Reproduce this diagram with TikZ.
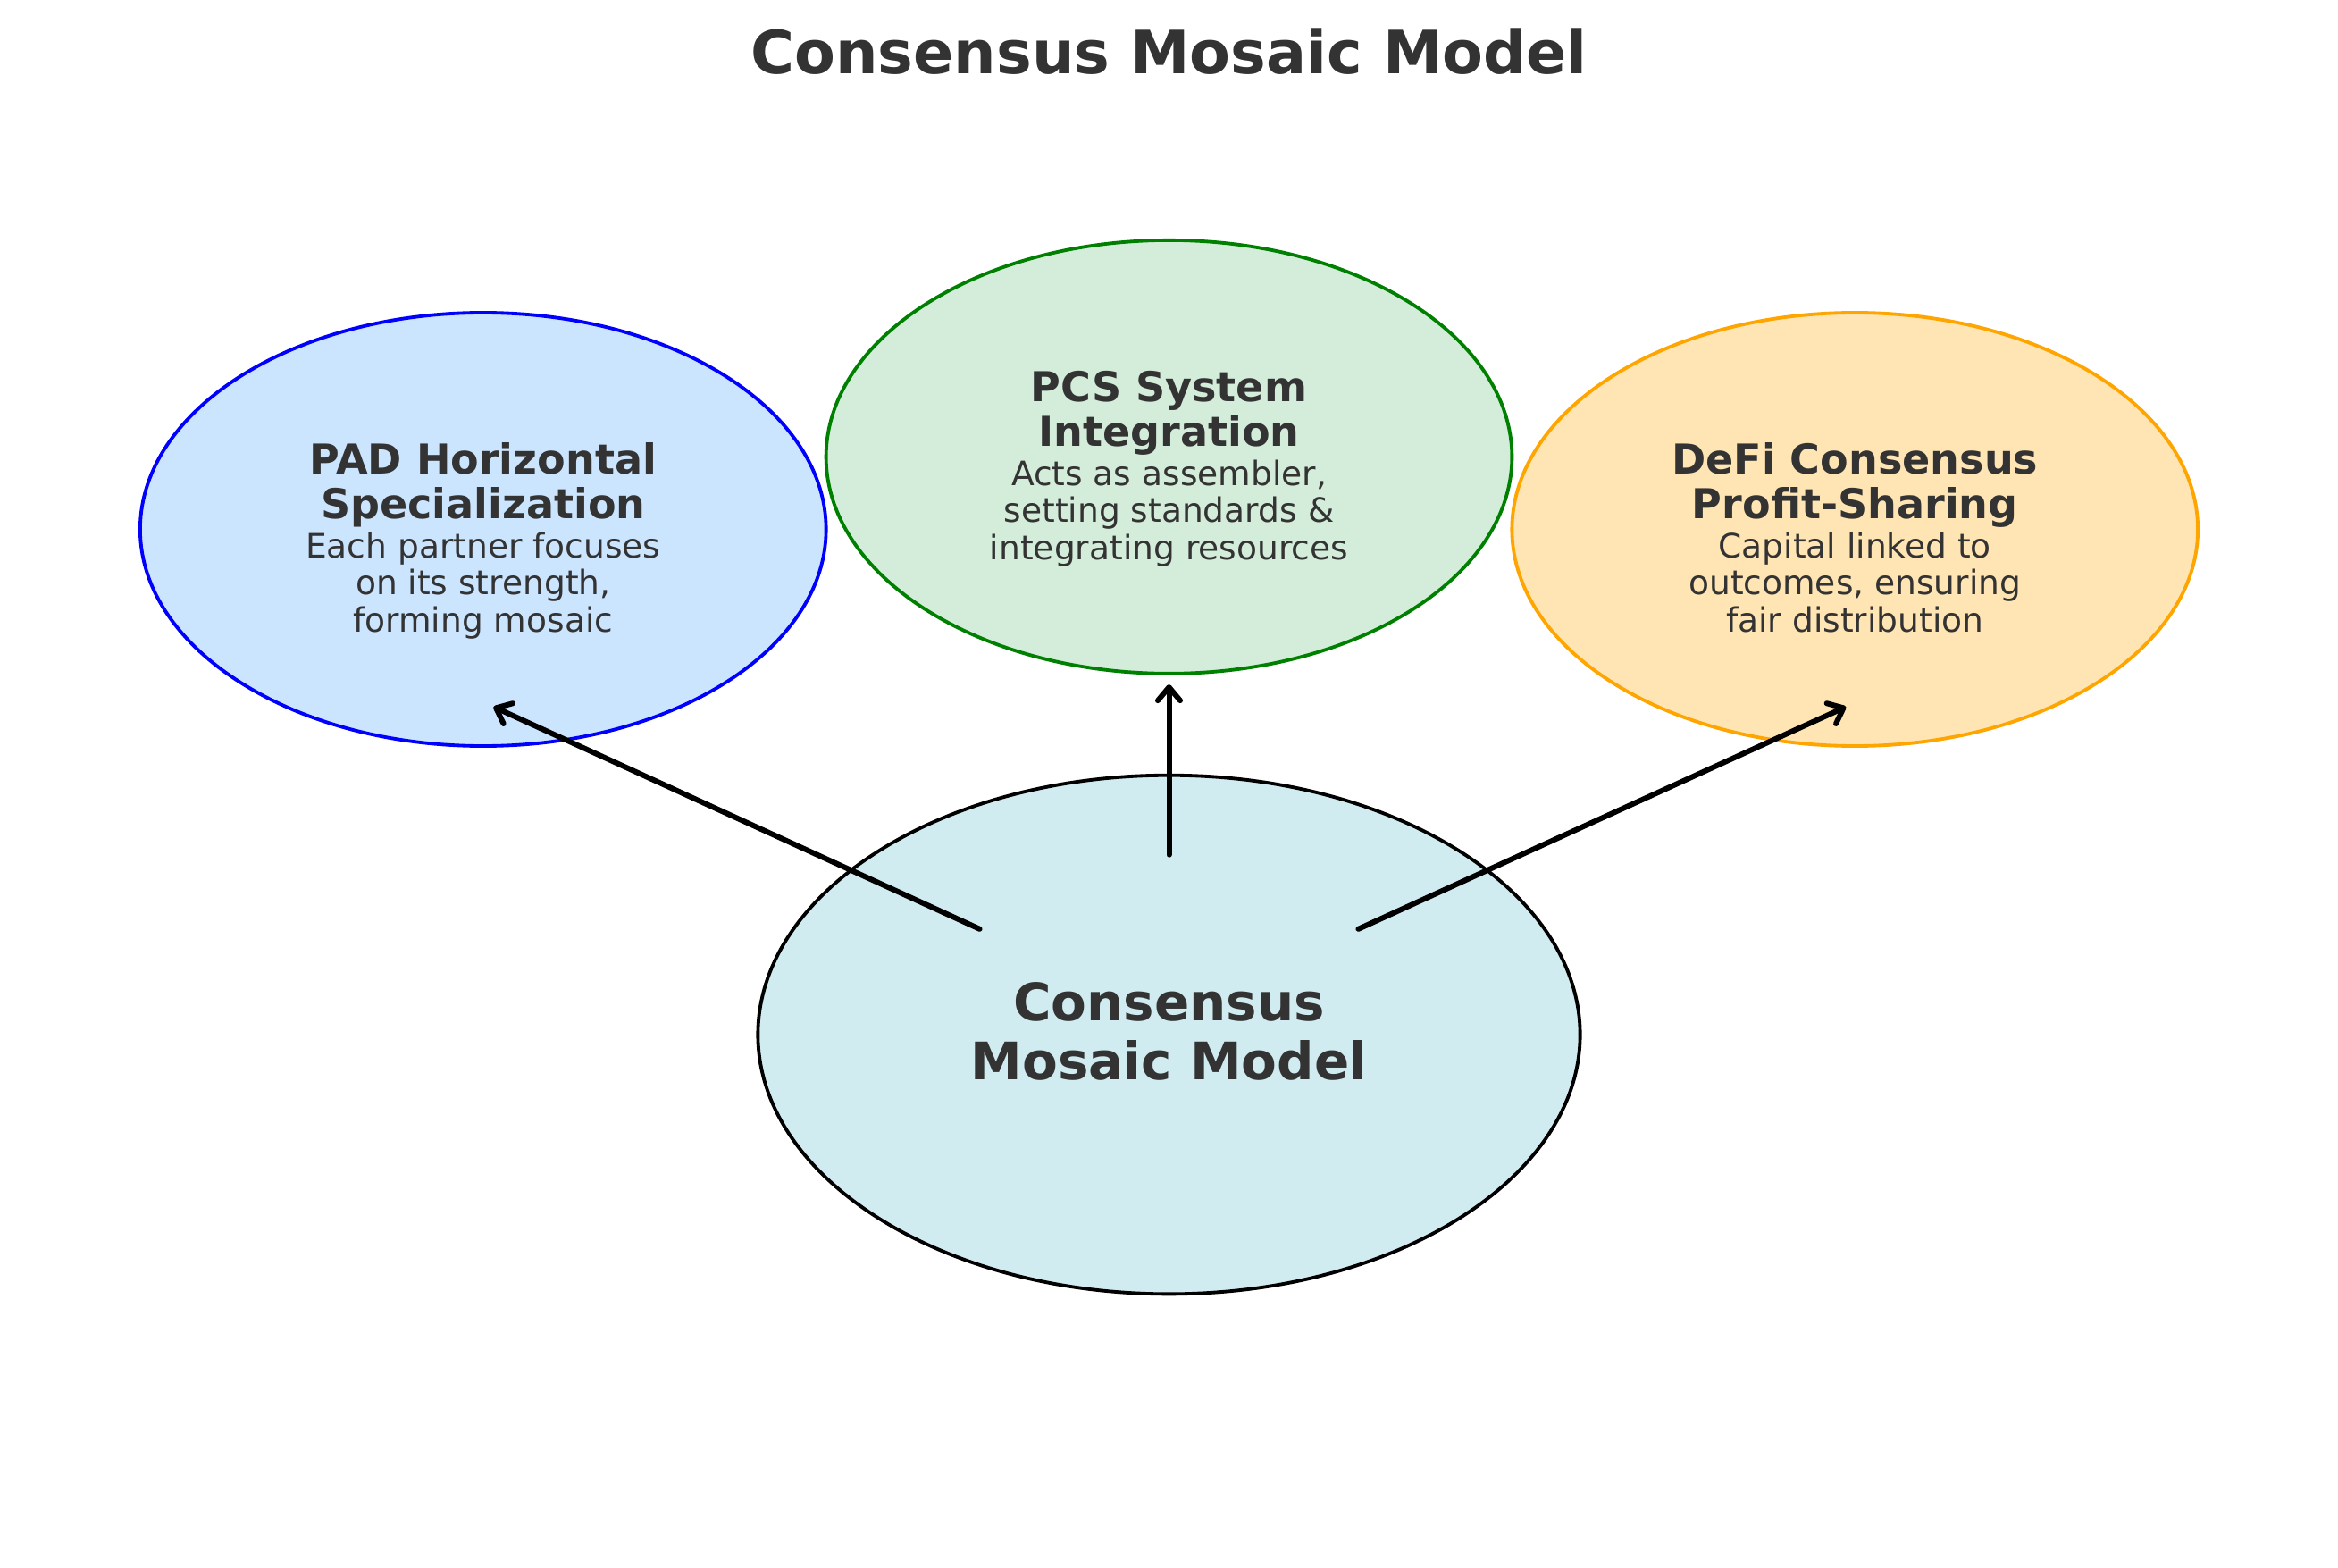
\documentclass[tikz,border=0pt]{standalone}
\usepackage{fontspec}
\setmainfont{DejaVu Sans}
\usetikzlibrary{arrows.meta,calc,shapes.geometric}
\definecolor{txt}{HTML}{333333}
\definecolor{padfill}{HTML}{CCE5FF}
\definecolor{pcsfill}{HTML}{D4EDDA}
\definecolor{defifill}{HTML}{FFE5B4}
\definecolor{corefill}{HTML}{D1ECF1}
\definecolor{orangeline}{HTML}{FFA500}
\definecolor{greenline}{HTML}{008000}
\definecolor{blueline}{HTML}{0000FF}
\newcommand{\headfont}{\fontsize{27.6}{30}\selectfont\bfseries}
\newcommand{\bodyfont}{\fontsize{22.5}{25}\selectfont}
\begin{document}
\begin{tikzpicture}[x=1pt,y=-1pt,
  bubble/.style={ellipse, draw, line width=2.3pt, inner sep=0pt,
    minimum width=460pt, minimum height=290.6pt},
  txtline/.style={anchor=base, inner sep=0pt, text=txt},
  headline/.style={txtline, font=\headfont},
  bodyline/.style={txtline, font=\bodyfont},
  coreline/.style={txtline, font=\fontsize{34.7}{40}\selectfont\bfseries},
  conn/.style={line width=3.6pt, line cap=round, draw=black,
    -{Straight Barb[length=9pt,width=15pt,line cap=round,line join=round]}}]
\useasboundingbox (0,0) rectangle (1568,1051);
\fill[white] (0,0) rectangle (1568,1051);

% title
\node[txtline, font=\fontsize{40}{48}\selectfont\bfseries] (title) at (784,49.5) {Consensus Mosaic Model};

% ellipses
\node[bubble, draw=blueline, fill=padfill] (pad) at (324,355) {};
\node[bubble, draw=greenline, fill=pcsfill] (pcs) at (784,306.4) {};
\node[bubble, draw=orangeline, fill=defifill] (defi) at (1244,355) {};
\node[bubble, draw=black, fill=corefill, minimum width=551.4pt, minimum height=347.9pt] (core) at (784,693.85) {};

% PAD text
\node[headline] (pad1) at ($(pad.center)+(0,-37)$) {PAD Horizontal};
\node[headline] (pad2) at ($(pad.center)+(0,-7)$) {Specialization};
\node[bodyline] (pad3) at ($(pad.center)+(0,19)$) {Each partner focuses};
\node[bodyline] (pad4) at ($(pad.center)+(0,44)$) {on its strength,};
\node[bodyline] (pad5) at ($(pad.center)+(0,69)$) {forming mosaic};

% PCS text
\node[headline] (pcs1) at ($(pcs.center)+(0,-37)$) {PCS System};
\node[headline] (pcs2) at ($(pcs.center)+(0,-7)$) {Integration};
\node[bodyline] (pcs3) at ($(pcs.center)+(0,19)$) {Acts as assembler,};
\node[bodyline] (pcs4) at ($(pcs.center)+(0,44)$) {setting standards \&};
\node[bodyline] (pcs5) at ($(pcs.center)+(0,69)$) {integrating resources};

% DeFi text
\node[headline] (defi1) at ($(defi.center)+(0,-37)$) {DeFi Consensus};
\node[headline] (defi2) at ($(defi.center)+(0,-7)$) {Profit-Sharing};
\node[bodyline] (defi3) at ($(defi.center)+(0,19)$) {Capital linked to};
\node[bodyline] (defi4) at ($(defi.center)+(0,44)$) {outcomes, ensuring};
\node[bodyline] (defi5) at ($(defi.center)+(0,69)$) {fair distribution};

% core text
\node[coreline] (core1) at ($(core.center)+(0,-9.25)$) {Consensus};
\node[coreline] (core2) at ($(core.center)+(0,30.15)$) {Mosaic Model};

% connector end points
\coordinate (tailL) at ($(core.center)+(-127,-70.85)$);
\coordinate (tailM) at ($(core.center)+(0,-120.65)$);
\coordinate (tailR) at ($(core.center)+(127,-70.85)$);
\coordinate (headL) at ($(pad.center)+(7,119)$);
\coordinate (headM) at ($(pcs.center)+(0,152.6)$);
\coordinate (headR) at ($(defi.center)+(-6,119)$);

\draw[conn] (tailL) -- (headL);
\draw[conn] (tailM) -- (headM);
\draw[conn] (tailR) -- (headR);
\end{tikzpicture}
\end{document}
